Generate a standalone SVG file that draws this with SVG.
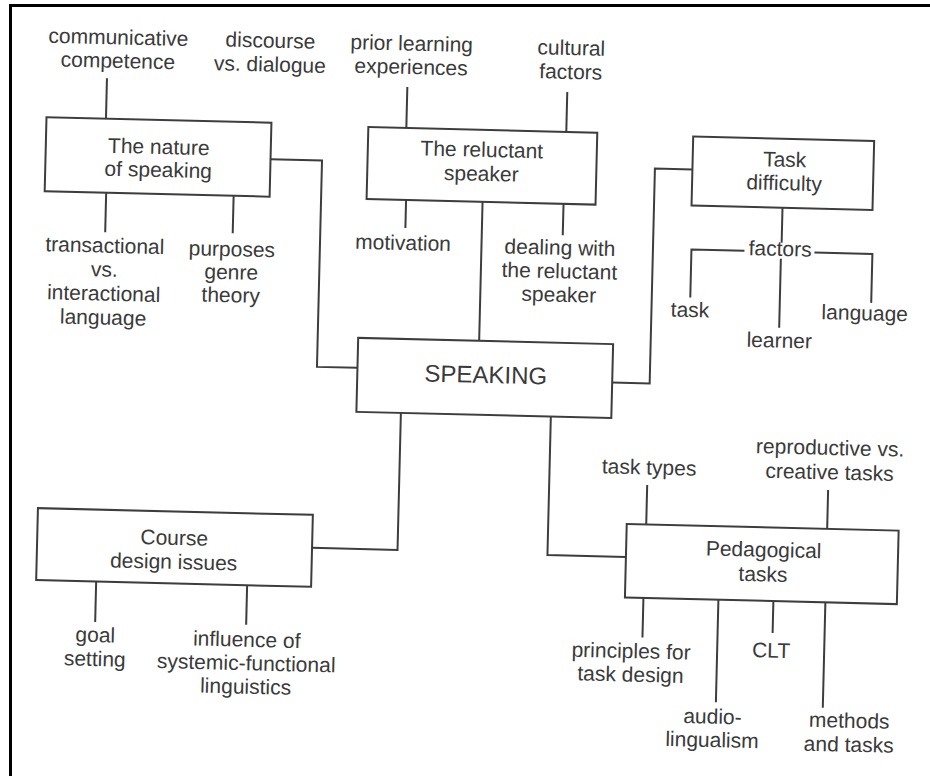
<svg xmlns="http://www.w3.org/2000/svg" width="930" height="776" viewBox="0 0 930 776">
<style>
.box{fill:#fff;stroke:#3d3d3d;stroke-width:2}
.t{font-family:"Liberation Sans",Arial,Helvetica,sans-serif;font-size:21px;fill:#3a3a3a;text-anchor:middle}
.big{font-size:24px}
.c{fill:none;stroke:#3d3d3d;stroke-width:2}
</style>
<rect x="0" y="0" width="930" height="776" fill="#fff"/>
<path d="M10.5,776 V5.5 H930" fill="none" stroke="#000" stroke-width="3"/>
<g transform="rotate(1.4 465 388)">
<g id="connectors" class="c">
<path d="M99.5,87 V127.5"/>
<path d="M101.5,201.5 V241"/>
<path d="M229,201.5 V239"/>
<path d="M265,164 H316.5 V370.5 H357"/>
<path d="M400,88.5 V129.5"/>
<path d="M560,89.5 V129.5"/>
<path d="M401.5,201.5 V229.5"/>
<path d="M559,201.5 V233"/>
<path d="M478,201.5 V340.5"/>
<path d="M687,164 H649.5 V379 H612"/>
<path d="M778,200 V235"/>
<path d="M688,292 V244 H741"/>
<path d="M811,244 H869 V293"/>
<path d="M777.6,251 V320"/>
<path d="M401.5,414.5 V551.5 H316"/>
<path d="M551.5,414.5 V553 H630"/>
<path d="M101,590.5 V631"/>
<path d="M252,590.5 V630"/>
<path d="M649.5,480.5 V520"/>
<path d="M830.5,481 V520"/>
<path d="M648.5,593.5 V633"/>
<path d="M723.5,593.5 V696"/>
<path d="M778.5,593.5 V625.5"/>
<path d="M830.5,593.5 V699"/>
</g>
<g id="nature-of-speaking"><rect class="box" x="40" y="127.5" width="225" height="74"/><text class="t" x="153" y="161.5">The nature</text><text class="t" x="153" y="184.5">of speaking</text></g>
<g id="reluctant-speaker"><rect class="box" x="362" y="129.5" width="229" height="72"/><text class="t" x="476" y="156.5">The reluctant</text><text class="t" x="476" y="180.5">speaker</text></g>
<g id="task-difficulty"><rect class="box" x="687" y="131" width="181" height="69"/><text class="t" x="779" y="159">Task</text><text class="t" x="779" y="182.5">difficulty</text></g>
<g id="speaking"><rect class="box" x="357" y="340.5" width="255" height="74"/><text class="t big" x="485.5" y="382.5">SPEAKING</text></g>
<g id="course-design"><rect class="box" x="41" y="518.5" width="275" height="72"/><text class="t" x="178" y="552">Course</text><text class="t" x="178" y="576">design issues</text></g>
<g id="pedagogical-tasks"><rect class="box" x="630" y="520" width="272" height="73.5"/><text class="t" x="767.5" y="549.5">Pedagogical</text><text class="t" x="767.5" y="574">tasks</text></g>
<g id="communicative-competence"><text class="t" x="110" y="53">communicative</text><text class="t" x="110" y="76.5">competence</text></g>
<g id="discourse-dialogue"><text class="t" x="262" y="52.5">discourse</text><text class="t" x="262" y="76.5">vs. dialogue</text></g>
<g id="prior-learning"><text class="t" x="403.3" y="52">prior learning</text><text class="t" x="403.3" y="75.5">experiences</text></g>
<g id="cultural-factors"><text class="t" x="563" y="52.5">cultural</text><text class="t" x="563" y="76.5">factors</text></g>
<g id="transactional"><text class="t" x="101.5" y="261.5">transactional</text><text class="t" x="101.5" y="285.5">vs.</text><text class="t" x="101.5" y="309.5">interactional</text><text class="t" x="101.5" y="333.5">language</text></g>
<g id="purposes"><text class="t" x="228.5" y="262">purposes</text><text class="t" x="228.5" y="285">genre</text><text class="t" x="228.5" y="308">theory</text></g>
<g id="motivation"><text class="t" x="399.6" y="251.5">motivation</text></g>
<g id="dealing"><text class="t" x="556.5" y="252.5">dealing with</text><text class="t" x="556.5" y="276">the reluctant</text><text class="t" x="556.5" y="299.5">speaker</text></g>
<g id="factors"><text class="t" x="776.7" y="248.3">factors</text></g>
<g id="task"><text class="t" x="688" y="311.5">task</text></g>
<g id="learner"><text class="t" x="778" y="340">learner</text></g>
<g id="language"><text class="t" x="862.8" y="310.5">language</text></g>
<g id="task-types"><text class="t" x="651" y="470">task types</text></g>
<g id="reproductive"><text class="t" x="831.5" y="446">reproductive vs.</text><text class="t" x="831.5" y="470.5">creative tasks</text></g>
<g id="goal-setting"><text class="t" x="101.5" y="651">goal</text><text class="t" x="101.5" y="675">setting</text></g>
<g id="influence-sfl"><text class="t" x="253" y="652">influence of</text><text class="t" x="253" y="675.5">systemic-functional</text><text class="t" x="253" y="699">linguistics</text></g>
<g id="principles"><text class="t" x="637.5" y="654">principles for</text><text class="t" x="637.5" y="677.5">task design</text></g>
<g id="clt"><text class="t" x="777.5" y="650">CLT</text></g>
<g id="audio-lingualism"><text class="t" x="720.5" y="717.5">audio-</text><text class="t" x="720.5" y="741">lingualism</text></g>
<g id="methods"><text class="t" x="857.3" y="718.3">methods</text><text class="t" x="857.3" y="742.3">and tasks</text></g>
</g>
</svg>
